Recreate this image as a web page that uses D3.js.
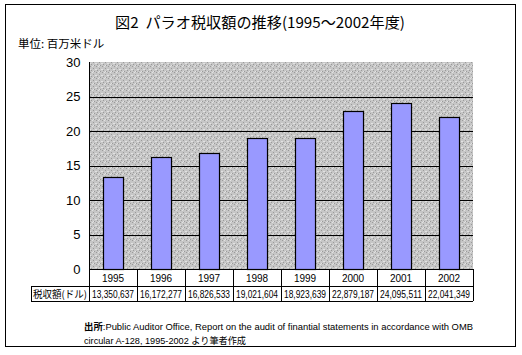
<!DOCTYPE html>
<html><head><meta charset="utf-8">
<script src="https://cdn.jsdelivr.net/npm/d3@7"></script>
<style>
body{margin:0;background:#fff;}
svg{display:block;font-family:"Noto Sans CJK JP","Noto Sans",sans-serif;}
</style></head>
<body><svg id="c" width="522" height="355"></svg>
<script>
const years = ["1995","1996","1997","1998","1999","2000","2001","2002"];
const revenue = [13350637,16172277,16826533,19021604,18923639,22879187,24095511,22041349];
const revenueLabels = ["13,350,637","16,172,277","16,826,533","19,021,604","18,923,639","22,879,187","24,095,511","22,041,349"];
const yTicks = [0,5,10,15,20,25,30];
const title = "図2  パラオ税収額の推移(1995〜2002年度)";
const unitLabel = "単位: 百万米ドル";
const rowLabel = "税収額(ドル)";

const svg = d3.select("#c");
const defs = svg.append("defs");
const pat = defs.append("pattern").attr("id","dots").attr("patternUnits","userSpaceOnUse")
  .attr("width",6).attr("height",6);
pat.append("rect").attr("width",6).attr("height",6).attr("fill","#c6c6c6");
[[0,0],[3,2],[1,4],[4,5]].forEach(([a,b])=>pat.append("rect").attr("x",a).attr("y",b).attr("width",1).attr("height",1).attr("fill","#9a9a9a"));
[[2,0],[5,3],[0,3],[3,5]].forEach(([a,b])=>pat.append("rect").attr("x",a).attr("y",b).attr("width",1).attr("height",1).attr("fill","#e2e2e2"));

// outer border
svg.append("rect").attr("x",5.5).attr("y",4.5).attr("width",510).attr("height",342)
  .attr("fill","none").attr("stroke","#000").attr("stroke-width",1);

const L=89, R=473, T=62, B=269;
const x = d3.scaleBand().domain(years).range([L,R]).paddingInner(0).paddingOuter(0);
const y = d3.scaleLinear().domain([0,30]).range([B,T]);

svg.append("rect").attr("x",L).attr("y",T).attr("width",R-L).attr("height",B-T).attr("fill","url(#dots)");

// gridlines
svg.append("g").selectAll("line").data(yTicks.filter(d=>d>0 && d<30)).join("line")
  .attr("x1",L).attr("x2",R).attr("y1",d=>Math.round(y(d))+0.5).attr("y2",d=>Math.round(y(d))+0.5)
  .attr("stroke","#000");

// bars
const bw = 20;
svg.append("g").selectAll("rect").data(years).join("rect")
  .attr("x",(d)=>Math.round(x(d)+x.bandwidth()/2-bw/2)+0.5)
  .attr("y",(d,i)=>Math.round(y(revenue[i]/1e6))+0.5)
  .attr("width",bw)
  .attr("height",(d,i)=>B-Math.round(y(revenue[i]/1e6)))
  .attr("fill","#9999ff").attr("stroke","#000").attr("stroke-width",1.2);

// y axis
const ya = svg.append("g").attr("transform",`translate(${L+0.5},0)`)
  .call(d3.axisLeft(y).tickValues(yTicks).tickSize(0).tickPadding(9).tickFormat(d3.format("d")));
ya.select(".domain").attr("stroke","#000").attr("d",`M0,${T}V${B}`);
ya.selectAll("text").attr("font-size",13).attr("fill","#000").attr("font-family","Liberation Sans, Arial, sans-serif");

// table
const rowTop=B, rowMid=286, rowBot=301, tblL=31;
const tg = svg.append("g").attr("stroke","#000").attr("fill","none");
tg.append("line").attr("x1",L).attr("x2",R).attr("y1",rowTop+0.5).attr("y2",rowTop+0.5);
tg.append("line").attr("x1",tblL).attr("x2",R).attr("y1",rowMid+0.5).attr("y2",rowMid+0.5);
tg.append("line").attr("x1",tblL).attr("x2",R).attr("y1",rowBot+0.5).attr("y2",rowBot+0.5);
tg.append("line").attr("x1",tblL+0.5).attr("x2",tblL+0.5).attr("y1",rowMid).attr("y2",rowBot);
tg.selectAll("line.v").data(years.concat(["end"])).join("line").attr("class","v")
  .attr("x1",(d,i)=>Math.round(L+i*x.bandwidth())+0.5).attr("x2",(d,i)=>Math.round(L+i*x.bandwidth())+0.5)
  .attr("y1",rowTop).attr("y2",rowBot);

svg.append("g").selectAll("text").data(years).join("text")
  .attr("x",d=>x(d)+x.bandwidth()/2).attr("y",(rowTop+rowMid)/2+4)
  .attr("text-anchor","middle").attr("font-size",10).attr("font-family","Liberation Sans, Arial, sans-serif")
  .text(d=>d);
svg.append("g").selectAll("text").data(revenueLabels).join("text")
  .attr("x",(d,i)=>x(years[i])+x.bandwidth()/2).attr("y",(rowMid+rowBot)/2+4)
  .attr("text-anchor","middle").attr("font-size",10.5).attr("font-family","Liberation Sans, Arial, sans-serif")
  .attr("textLength",42).attr("lengthAdjust","spacingAndGlyphs")
  .text(d=>d);
svg.append("text").attr("x",(tblL+L)/2).attr("y",(rowMid+rowBot)/2+4).attr("text-anchor","middle")
  .attr("font-size",10).attr("textLength",54).attr("lengthAdjust","spacingAndGlyphs").text(rowLabel);

// title
svg.append("text").attr("x",260).attr("y",28).attr("text-anchor","middle").attr("font-size",15)
  .style("white-space","pre")
  .attr("textLength",290).attr("lengthAdjust","spacingAndGlyphs").text(title);
svg.append("text").attr("x",18).attr("y",48).attr("font-size",11.5).text(unitLabel);

// source
const s1 = svg.append("text").attr("x",84).attr("y",330).attr("font-size",9.5).attr("font-family","Liberation Sans, Arial, sans-serif")
  .attr("textLength",389).attr("lengthAdjust","spacingAndGlyphs");
s1.append("tspan").attr("font-weight","bold").attr("font-family","Noto Sans CJK JP").text("出所");
s1.append("tspan").text(":Public Auditor Office, Report on the audit of finantial statements in accordance with OMB");
const s2 = svg.append("text").attr("x",84).attr("y",344).attr("font-size",9.5).attr("font-family","Liberation Sans, Arial, sans-serif")
  .attr("textLength",162).attr("lengthAdjust","spacingAndGlyphs");
s2.append("tspan").text("circular A-128, 1995-2002 ");
s2.append("tspan").attr("font-family","Noto Sans CJK JP").text("より筆者作成");
</script></body></html>
